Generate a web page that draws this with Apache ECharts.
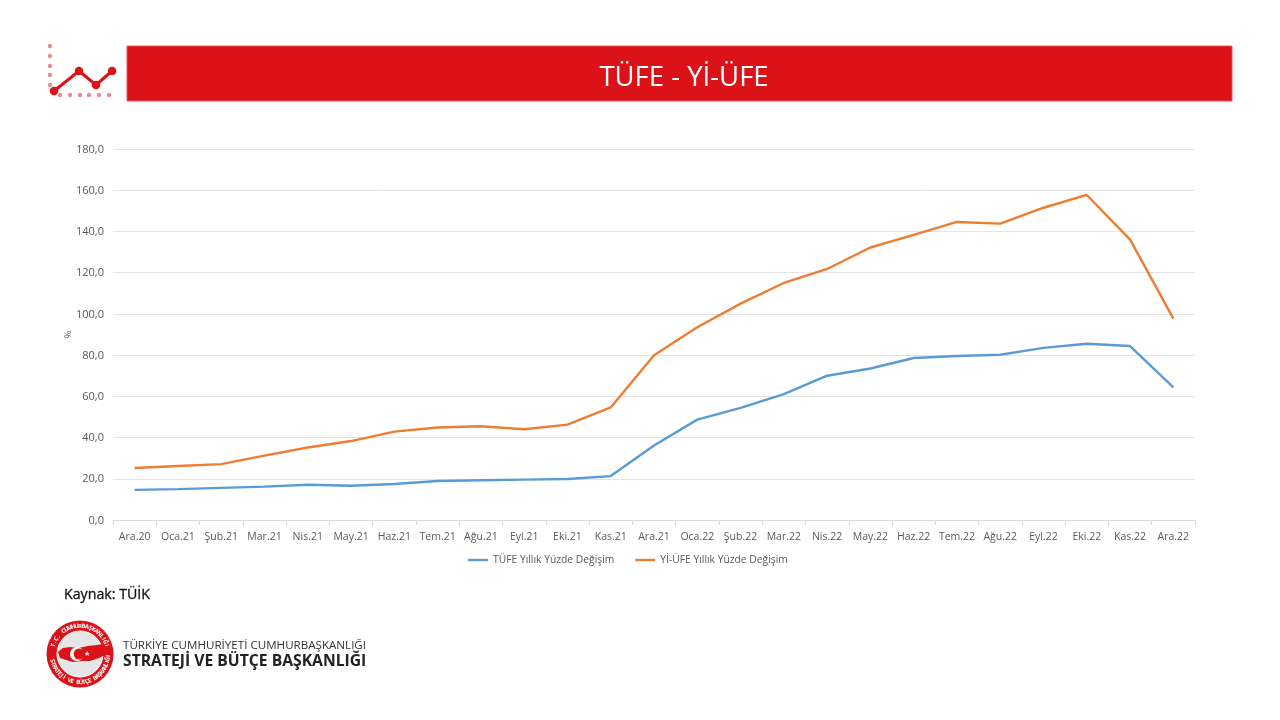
<!DOCTYPE html>
<html>
<head>
<meta charset="utf-8">
<title>TÜFE - Yİ-ÜFE</title>
<style>
  html, body { margin: 0; padding: 0; background: #fff; }
  #main { width: 1280px; height: 720px; }
</style>
<script src="https://cdn.jsdelivr.net/npm/echarts@6/dist/echarts.min.js"></script>
</head>
<body>
<div id="main"></div>
<script>
var categories = ["Ara.20", "Oca.21", "Şub.21", "Mar.21", "Nis.21", "May.21", "Haz.21", "Tem.21", "Ağu.21", "Eyl.21", "Eki.21", "Kas.21", "Ara.21", "Oca.22", "Şub.22", "Mar.22", "Nis.22", "May.22", "Haz.22", "Tem.22", "Ağu.22", "Eyl.22", "Eki.22", "Kas.22", "Ara.22"];
var tufe = [14.6, 15.0, 15.6, 16.2, 17.1, 16.6, 17.5, 18.9, 19.3, 19.6, 19.9, 21.3, 36.1, 48.7, 54.4, 61.1, 70.0, 73.5, 78.6, 79.6, 80.2, 83.5, 85.5, 84.4, 64.3];
var yiUfe = [25.2, 26.2, 27.1, 31.2, 35.2, 38.3, 42.9, 44.9, 45.5, 44.0, 46.3, 54.6, 79.9, 93.5, 105.0, 115.0, 121.8, 132.2, 138.3, 144.6, 143.8, 151.5, 157.7, 136.0, 97.7];

var FONT = '"Open Sans", "Noto Sans", sans-serif';
var RED = "#dc1219";
var PINK = "#ee8a90";

var myChart = echarts.init(document.getElementById("main"), null, { renderer: "canvas" });

// header icon: dotted axes + small zigzag line
var icon = [];
[46, 56, 66, 75, 85].forEach(function (y) {
  icon.push({ type: "circle", shape: { cx: 50, cy: y, r: 2.2 }, style: { fill: PINK } });
});
[60, 70, 80, 89, 99, 109].forEach(function (x) {
  icon.push({ type: "circle", shape: { cx: x, cy: 95, r: 2.2 }, style: { fill: PINK } });
});
icon.push({ type: "polyline", shape: { points: [[54, 91], [79, 71], [96, 85], [112, 71]] }, style: { stroke: RED, lineWidth: 3, fill: null } });
[[54, 91], [79, 71], [96, 85], [112, 71]].forEach(function (p) {
  icon.push({ type: "circle", shape: { cx: p[0], cy: p[1], r: 4.3 }, style: { fill: RED } });
});

// ring text of the logo, one glyph at a time
function arcText(str, startDeg, stepDeg, r, bottom) {
  return str.split("").map(function (ch, i) {
    var deg = startDeg + i * stepDeg;
    var a = deg * Math.PI / 180;
    return {
      type: "text",
      x: 80 + r * Math.sin(a),
      y: 654 - r * Math.cos(a),
      rotation: bottom ? -(deg - 180) * Math.PI / 180 : -a,
      style: { text: ch, fill: "#fff", font: "bold 6px " + FONT, align: "center", verticalAlign: "middle" }
    };
  });
}

var logo = [
  { type: "circle", shape: { cx: 80, cy: 654, r: 33.5 }, style: { fill: RED } },
  { type: "circle", shape: { cx: 80, cy: 654, r: 23 }, style: { fill: "#e6e6e8", stroke: "#fff", lineWidth: 1 } },
  { type: "polygon", shape: { points: [[58, 652], [63, 648], [70, 647], [78, 648], [88, 646], [97, 645], [103, 644], [105, 650], [105, 655], [99, 658], [90, 661], [82, 661], [73, 662], [66, 660], [60, 658]] }, style: { fill: RED } },
  { type: "circle", shape: { cx: 77, cy: 654, r: 7 }, style: { fill: "#fff" } },
  { type: "circle", shape: { cx: 79.2, cy: 654, r: 5.6 }, style: { fill: RED } },
  { type: "text", x: 87, y: 654, style: { text: "★", fill: "#fff", font: "7px " + FONT, align: "center", verticalAlign: "middle" } }
].concat(
  arcText("T.C. CUMHURBAŞKANLIĞI", -72, 7.2, 28, false),
  arcText("STRATEJİ VE BÜTÇE BAŞKANLIĞI", 256, -6, 28.5, true)
);

var option = {
  animation: false,
  backgroundColor: "#fff",
  title: {
    text: "TÜFE - Yİ-ÜFE",
    left: 679,
    top: 59,
    textAlign: "center",
    textStyle: { color: "#fff", fontFamily: FONT, fontSize: 27.5, fontWeight: "normal" }
  },
  grid: { left: 113, right: 85, top: 149, bottom: 200 },
  legend: {
    bottom: 150,
    left: 463,
    icon: "rect",
    itemWidth: 20,
    itemHeight: 2.4,
    itemGap: 21,
    textStyle: { color: "#595959", fontFamily: FONT, fontSize: 10.3 },
    data: ["TÜFE Yıllık Yüzde Değişim", "Yİ-ÜFE Yıllık Yüzde Değişim"]
  },
  xAxis: {
    type: "category",
    data: categories,
    boundaryGap: true,
    axisLine: { lineStyle: { color: "#d9d9d9" } },
    axisTick: { show: true, length: 5, alignWithLabel: false, lineStyle: { color: "#d9d9d9" } },
    axisLabel: { color: "#595959", fontFamily: FONT, fontSize: 10.5, margin: 12, interval: 0 }
  },
  yAxis: {
    type: "value",
    min: 0,
    max: 180,
    interval: 20,
    name: "%",
    nameLocation: "middle",
    nameGap: 40,
    nameMoveOverlap: false,
    nameRotate: 90,
    nameTextStyle: { color: "#595959", fontFamily: FONT, fontSize: 9 },
    axisLine: { show: false },
    axisTick: { show: false },
    splitLine: { lineStyle: { color: "#e4e4e4" } },
    axisLabel: {
      color: "#595959", fontFamily: FONT, fontSize: 11, margin: 9, verticalAlign: "top", padding: [-5, 0, 0, 0],
      formatter: function (v) { return v.toFixed(1).replace(".", ","); }
    }
  },
  series: [
    { name: "TÜFE Yıllık Yüzde Değişim", type: "line", data: tufe, symbol: "none", smooth: false, lineStyle: { color: "#5b9bd5", width: 2.4 }, itemStyle: { color: "#5b9bd5" } },
    { name: "Yİ-ÜFE Yıllık Yüzde Değişim", type: "line", data: yiUfe, symbol: "none", smooth: false, lineStyle: { color: "#ed7d31", width: 2.4 }, itemStyle: { color: "#ed7d31" } }
  ],
  graphic: [
    { type: "rect", z: -1, shape: { x: 127, y: 46, width: 1105, height: 55 }, style: { fill: RED, stroke: "#e8545a", lineWidth: 1 } },
    { type: "group", children: icon },
    { type: "text", x: 64, y: 595, style: { text: "Kaynak: TÜİK", fill: "#111", stroke: "#111", lineWidth: 0.3, font: "14.2px " + FONT, verticalAlign: "middle" } },
    { type: "group", children: logo },
    { type: "text", x: 123, y: 646, style: { text: "TÜRKİYE CUMHURİYETİ CUMHURBAŞKANLIĞI", fill: "#333", font: "11.6px " + FONT, verticalAlign: "middle" } },
    { type: "text", x: 123, y: 662, style: { text: "STRATEJİ VE BÜTÇE BAŞKANLIĞI", fill: "#222", font: "bold 15.7px " + FONT, verticalAlign: "middle" } }
  ]
};

option && myChart.setOption(option);
</script>
</body>
</html>
